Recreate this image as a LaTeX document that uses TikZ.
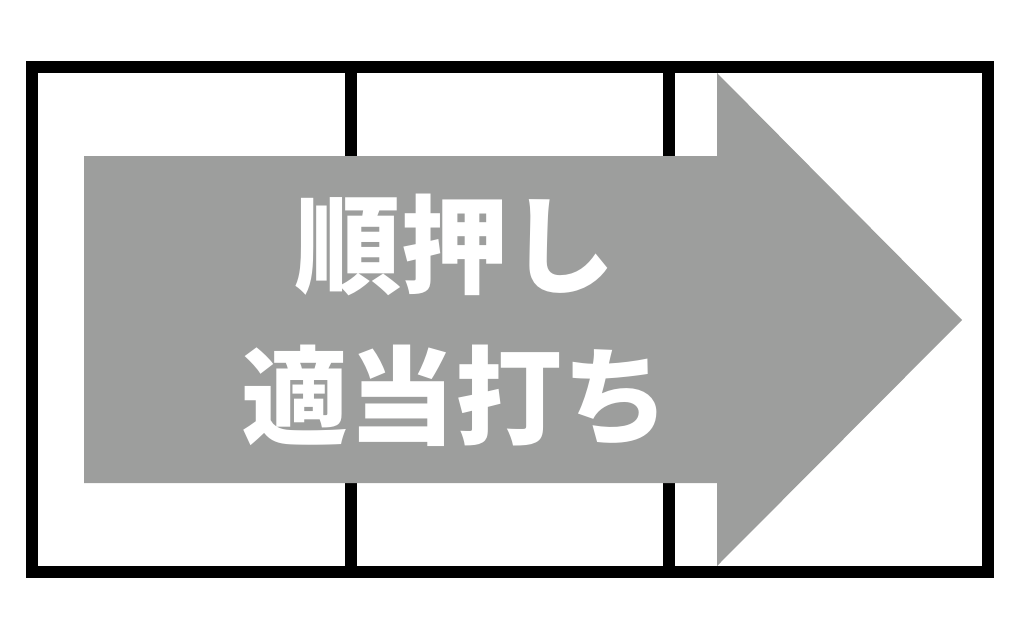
\documentclass[tikz,border=0pt]{standalone}
\usepackage{fontspec}
\newfontfamily\cjk{Noto Sans CJK JP}[BoldFont={Noto Sans CJK JP Black}]
\definecolor{arrowgray}{HTML}{9D9E9D}
\begin{document}
\begin{tikzpicture}[x=1pt,y=-1pt,
  frame/.style={draw=black,line width=12pt},
  arrowfill/.style={fill=arrowgray},
  label/.style={text=white,font=\cjk\bfseries\fontsize{107}{117}\selectfont,inner sep=0pt,anchor=center}]
\useasboundingbox (0,0) rectangle (1020,640);
\coordinate (d1t) at (351,67);
\coordinate (d1b) at (351,572);
\coordinate (d2t) at (669,67);
\coordinate (d2b) at (669,572);
\draw[frame] (d1t) -- (d1b);
\draw[frame] (d2t) -- (d2b);
\fill[arrowfill] (84,156) -- (717,156) -- (717,73) -- (962,320) -- (717,566) -- (717,483) -- (84,483) -- cycle;
\draw[frame] (32,67) rectangle (988,572);
\node[label] (t1) at (455,245) {順押し};
\node[label] (t2) at (455,396) {適当打ち};
\end{tikzpicture}
\end{document}
